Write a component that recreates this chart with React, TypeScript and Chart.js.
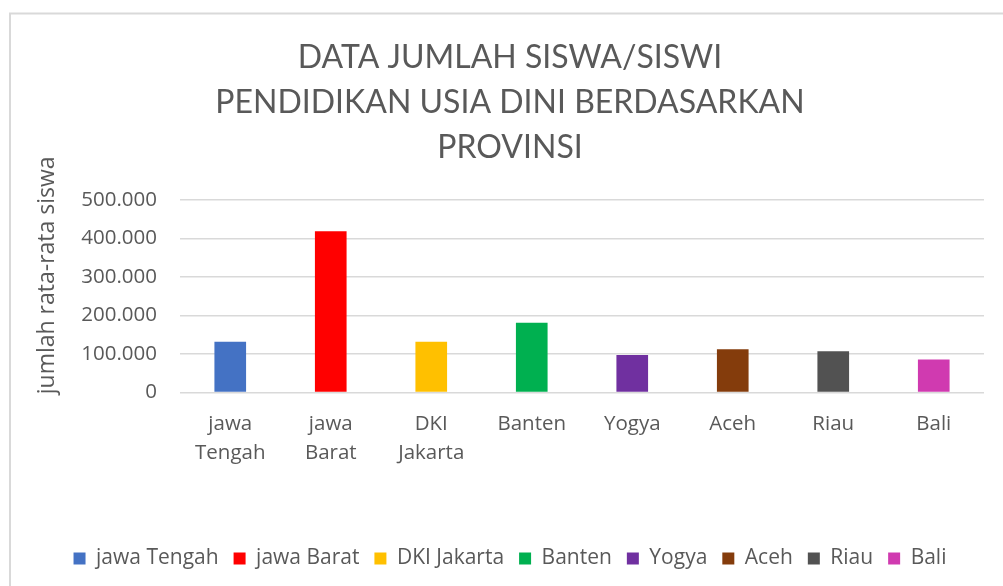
import React, { useEffect, useRef } from 'react';
import { Chart, registerables } from 'chart.js';

Chart.register(...registerables);

const titleLines = ['DATA JUMLAH SISWA/SISWI', 'PENDIDIKAN USIA DINI BERDASARKAN', 'PROVINSI'];
const yAxisTitle = 'jumlah rata-rata siswa';
const categories: (string | string[])[] = [['jawa', 'Tengah'], ['jawa', 'Barat'], ['DKI', 'Jakarta'], 'Banten', 'Yogya', 'Aceh', 'Riau', 'Bali'];
const legendNames = ['jawa Tengah', 'jawa Barat', 'DKI Jakarta', 'Banten', 'Yogya', 'Aceh', 'Riau', 'Bali'];
const values = [131500, 419000, 131500, 181000, 97500, 112500, 107000, 86000];
const colors = ['#4472C4', '#FF0000', '#FFC000', '#00B050', '#7030A0', '#843C0C', '#525252', '#D03AB0'];
const yMin = 0;
const yMax = 500000;
const yStep = 100000;

const TEXT = '#595959';
const GRID = '#d9d9d9';

function formatThousands(v: number): string {
  const s = Math.round(v).toString();
  return s.replace(/\B(?=(\d{3})+(?!\d))/g, '.');
}

const borderPlugin = {
  id: 'outerBorder',
  beforeDraw(chart: any) {
    const { ctx, width, height } = chart;
    ctx.save();
    ctx.fillStyle = '#ffffff';
    ctx.fillRect(0, 0, width, height);
    ctx.strokeStyle = GRID;
    ctx.lineWidth = 2;
    ctx.beginPath();
    ctx.moveTo(10, height + 2);
    ctx.lineTo(10, 13.5);
    ctx.lineTo(width + 2, 13.5);
    ctx.stroke();
    ctx.restore();
  },
};

export default function App() {
  const ref = useRef<HTMLCanvasElement | null>(null);

  useEffect(() => {
    if (!ref.current) return;
    const chart = new Chart(ref.current, {
      type: 'bar',
      data: {
        labels: categories as any,
        datasets: [
          {
            label: 'jumlah',
            data: values,
            backgroundColor: colors,
            borderWidth: 0,
            barPercentage: 0.315,
            categoryPercentage: 1,
          },
        ],
      },
      options: {
        responsive: false,
        animation: false,
        layout: { padding: { left: 36, right: 19, top: 0, bottom: 7 } },
        scales: {
          x: {
            grid: { display: false, drawTicks: false },
            border: { display: false },
            ticks: {
              color: TEXT,
              font: { family: 'Open Sans', size: 20.5, lineHeight: 1.4 },
              padding: 17.6,
              maxRotation: 0,
              autoSkip: false,
            },
            afterFit: (s: any) => {
              s.height = 140.5;
            },
          },
          y: {
            min: yMin,
            max: yMax,
            grid: { color: GRID, lineWidth: 1.5, drawTicks: false },
            border: { display: false },
            ticks: {
              stepSize: yStep,
              color: TEXT,
              font: { family: 'Open Sans', size: 20.5 },
              padding: 23,
              callback: (v: any) => formatThousands(Number(v)),
            },
            title: {
              display: true,
              text: '\u00A0\u00A0\u00A0\u00A0\u00A0\u00A0\u00A0' + yAxisTitle,
              color: TEXT,
              font: { family: 'Open Sans', size: 23, lineHeight: 1.0 },
              padding: { top: 0, bottom: 0 },
            },
            afterFit: (s: any) => {
              s.width = 144;
            },
          },
        },
        plugins: {
          title: {
            display: true,
            text: titleLines,
            color: TEXT,
            font: { family: 'Lato', size: 32, weight: 'normal', lineHeight: 45 / 32 },
            padding: { top: 35.5, bottom: 29.5 },
          },
          legend: {
            position: 'bottom',
            onClick: () => {},
            labels: {
              boxWidth: 12,
              boxHeight: 12,
              padding: 15,
              color: TEXT,
              font: { family: 'Open Sans', size: 21 },
              generateLabels: () =>
                legendNames.map((t, i) => ({
                  text: t,
                  fillStyle: colors[i],
                  strokeStyle: colors[i],
                  lineWidth: 0,
                  hidden: false,
                  index: i,
                  fontColor: TEXT,
                })),
            },
          },
          tooltip: { enabled: false },
        },
      },
      plugins: [borderPlugin],
    });
    return () => chart.destroy();
  }, []);

  return (
    <div style={{ position: 'fixed', left: 0, top: 0, width: 1003, height: 586, background: '#fff' }}>
      <canvas ref={ref} width={1003} height={586} style={{ display: 'block' }} />
    </div>
  );
}
